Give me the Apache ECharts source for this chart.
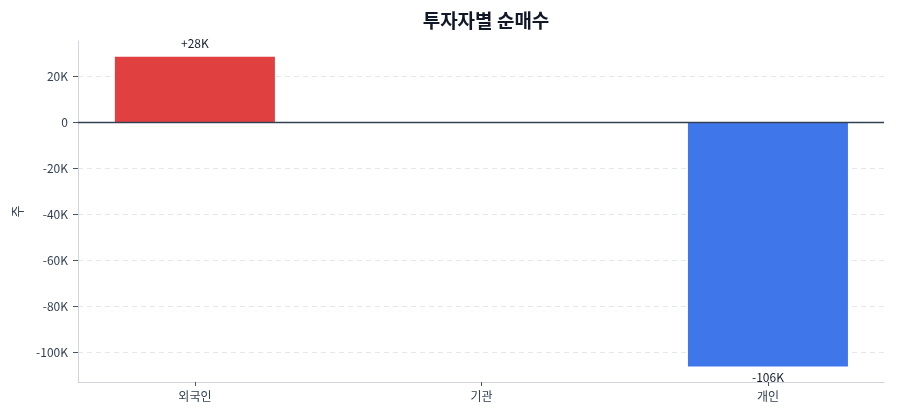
<!DOCTYPE html>
<html>
<head>
<meta charset="utf-8">
<script src="https://cdn.jsdelivr.net/npm/echarts@6/dist/echarts.min.js"></script>
<style>
  html, body { margin: 0; padding: 0; background: #fff; }
  #chart { width: 900px; height: 420px; }
</style>
</head>
<body>
<div id="chart"></div>
<script>
// 투자자별 순매수 (주)
var categories = ['외국인', '기관', '개인'];
var netBuy = [28400, 0, -106300];
var barColors = ['#e03c3c', '#94a3b8', '#3b74eb'];
var yTicks = [-100000, -80000, -60000, -40000, -20000, 0, 20000];

function fmtK(v) {
    if (v === 0) return '0';
    return (v / 1000) + 'K';
}

var chart = echarts.init(document.getElementById('chart'));

var option = {
    animation: false,
    textStyle: { fontFamily: '"Noto Sans CJK KR", "Noto Sans", sans-serif' },
    title: {
        text: '투자자별 순매수',
        left: 481,
        textAlign: 'center',
        top: 6,
        textStyle: { fontSize: 19, fontWeight: 'bold', color: '#111827' }
    },
    grid: { left: 78, right: 16, top: 41, bottom: 38 },
    xAxis: {
        type: 'value',
        min: -0.408,
        max: 2.405,
        axisLine: { onZero: false, lineStyle: { color: '#d1d5db', width: 1 } },
        axisTick: { customValues: [0, 1, 2], length: 4, lineStyle: { color: '#475569' } },
        axisLabel: {
            customValues: [0, 1, 2],
            color: '#334155',
            fontSize: 12,
            margin: 8,
            formatter: function (v) { return categories[Math.round(v)]; }
        },
        splitLine: { show: false }
    },
    yAxis: {
        type: 'value',
        min: -113000,
        max: 35200,
        name: '주',
        nameLocation: 'middle',
        nameGap: 54,
        nameTextStyle: { color: '#334155', fontSize: 13 },
        axisLine: { show: true, onZero: false, lineStyle: { color: '#d1d5db', width: 1 } },
        axisTick: { show: true, customValues: yTicks, length: 5, lineStyle: { color: '#475569' } },
        axisLabel: {
            customValues: yTicks,
            color: '#334155',
            fontSize: 12,
            margin: 10,
            formatter: fmtK
        },
        splitLine: { show: true, lineStyle: { color: '#e5e7eb', type: [5, 4], width: 1 } }
    },
    series: [{
        type: 'bar',
        barWidth: 160,
        data: netBuy.map(function (v, i) {
            return {
                value: [i, v],
                itemStyle: { color: barColors[i], opacity: 0.98 },
                label: {
                    show: v !== 0,
                    position: v >= 0 ? 'top' : 'bottom',
                    distance: v >= 0 ? 7 : 5,
                    color: '#111827',
                    fontSize: 12,
                    formatter: (v > 0 ? '+' : '') + Math.round(v / 1000) + 'K'
                }
            };
        }),
        markLine: {
            silent: true,
            symbol: 'none',
            label: { show: false },
            lineStyle: { color: '#334155', width: 1.3, type: 'solid' },
            data: [{ yAxis: 0 }]
        }
    }]
};
chart.setOption(option);
window.addEventListener('resize', function () {
    chart.resize();
});
</script>
</body>
</html>
